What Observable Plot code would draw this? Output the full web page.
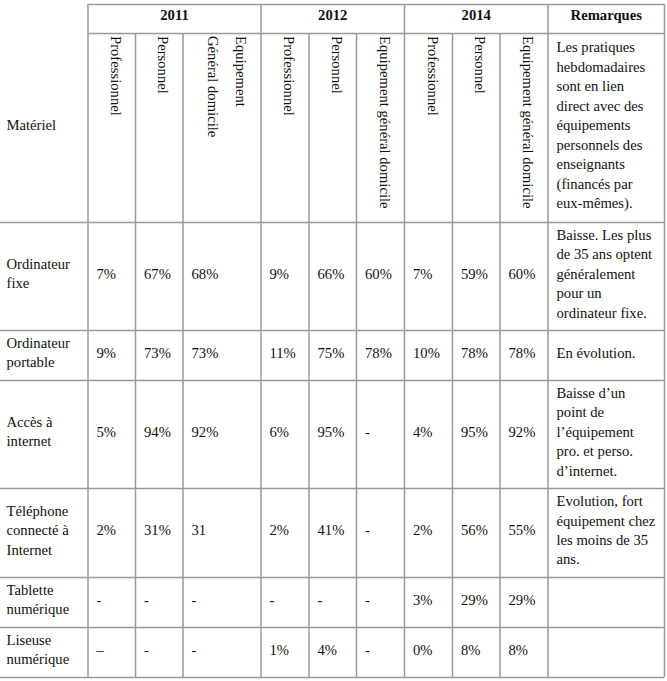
<!DOCTYPE html>
<html>
<head>
<meta charset="utf-8">
<script src="https://cdn.jsdelivr.net/npm/d3@7"></script>
<script src="https://cdn.jsdelivr.net/npm/@observablehq/plot@0.6"></script>
<style>
  html, body { margin: 0; padding: 0; background: #fff; }
  #chart svg, #chart svg text { font-family: 'Liberation Serif', 'Times New Roman', serif !important; }
</style>
</head>
<body>
<div id="chart"></div>
<script>
// ---- Data ----
const years = ["2011", "2012", "2014"];
const remarquesTitle = "Remarques";
const materielTitle = "Matériel";
const subheaders2011 = ["Professionnel", "Personnel", ["Equipement", "Général domicile"]];
const subheaders2012 = ["Professionnel", "Personnel", ["Equipement général domicile"]];
const subheaders2014 = ["Professionnel", "Personnel", ["Equipement général domicile"]];
const materiels = [
  "Ordinateur\nfixe",
  "Ordinateur\nportable",
  "Accès à\ninternet",
  "Téléphone\nconnecté à\nInternet",
  "Tablette\nnumérique",
  "Liseuse\nnumérique"
];
const values2011 = [
  ["7%", "67%", "68%"],
  ["9%", "73%", "73%"],
  ["5%", "94%", "92%"],
  ["2%", "31%", "31"],
  ["-", "-", "-"],
  ["–", "-", "-"]
];
const values2012 = [
  ["9%", "66%", "60%"],
  ["11%", "75%", "78%"],
  ["6%", "95%", "-"],
  ["2%", "41%", "-"],
  ["-", "-", "-"],
  ["1%", "4%", "-"]
];
const values2014 = [
  ["7%", "59%", "60%"],
  ["10%", "78%", "78%"],
  ["4%", "95%", "92%"],
  ["2%", "56%", "55%"],
  ["3%", "29%", "29%"],
  ["0%", "8%", "8%"]
];
const remarqueHeader = "Les pratiques\nhebdomadaires\nsont en lien\ndirect avec des\néquipements\npersonnels des\nenseignants\n(financés par\neux-mêmes).";
const remarques = [
  "Baisse. Les plus\nde 35 ans optent\ngénéralement\npour un\nordinateur fixe.",
  "En évolution.",
  "Baisse d’un\npoint de\nl’équipement\npro. et perso.\nd’internet.",
  "Evolution, fort\néquipement chez\nles moins de 35\nans.",
  "",
  ""
];

// ---- Layout (table geometry) ----
const W = 667, H = 681;
const colEdges = [0, 87.5, 135, 182.5, 260.5, 308.5, 356, 404, 452, 499.5, 547.5, 664];
const rowEdges = [4, 33, 222, 330, 380, 488, 577, 627, 677];
const pad = 8.5;
const lineH = 19.5;
const fontSize = 14.67;
const ink = "#111";
const gridColor = "#9a9a9a";
const mid = (a, b) => (a + b) / 2 - 4;

const allValues = [values2011, values2012, values2014];
const allSub = [subheaders2011, subheaders2012, subheaders2014];

// grid lines
const hLines = [
  {y: rowEdges[0], x1: colEdges[1], x2: colEdges[11]},
  {y: rowEdges[1], x1: colEdges[1], x2: colEdges[11]},
  ...rowEdges.slice(2).map(y => ({y, x1: colEdges[0], x2: colEdges[11]}))
];
const vLines = [
  ...[1, 4, 7, 10, 11].map(i => ({x: colEdges[i], y1: rowEdges[0], y2: rowEdges[8]})),
  ...[2, 3, 5, 6, 8, 9].map(i => ({x: colEdges[i], y1: rowEdges[1], y2: rowEdges[8]}))
];

// header texts
const yearCells = years.map((t, j) => ({
  x: (colEdges[1 + 3 * j] + colEdges[4 + 3 * j]) / 2,
  y: mid(rowEdges[0], rowEdges[1]),
  text: t
}));
yearCells.push({x: (colEdges[10] + colEdges[11]) / 2, y: mid(rowEdges[0], rowEdges[1]), text: remarquesTitle});

const vertCells = [];
allSub.forEach((subs, j) => {
  subs.forEach((s, k) => {
    const right = colEdges[2 + 3 * j + k];
    const lines = Array.isArray(s) ? s : [s];
    lines.forEach((ln, l) => {
      vertCells.push({x: right - 20 - l * 28, y: rowEdges[1] + 2.5, text: ln});
    });
  });
});

// body cells (left aligned)
const leftCells = [];
leftCells.push({x: 6, y: mid(rowEdges[1], rowEdges[2]), text: materielTitle});
leftCells.push({x: colEdges[10] + pad, y: mid(rowEdges[1], rowEdges[2]), text: remarqueHeader});
materiels.forEach((m, i) => {
  const y = mid(rowEdges[2 + i], rowEdges[3 + i]);
  leftCells.push({x: 6, y, text: m});
  allValues.forEach((vals, j) => {
    vals[i].forEach((v, k) => {
      leftCells.push({x: colEdges[1 + 3 * j + k] + pad, y, text: v});
    });
  });
  if (remarques[i]) leftCells.push({x: colEdges[10] + pad, y, text: remarques[i]});
});

const font = "'Liberation Serif', 'Times New Roman', serif";

const plot = Plot.plot({
  width: W,
  height: H,
  margin: 0,
  x: {type: "linear", domain: [0, W], range: [0, W], axis: null},
  y: {type: "linear", domain: [0, H], range: [0, H], axis: null},
  style: {fontFamily: font, background: "#fff"},
  marks: [
    Plot.ruleY(hLines, {y: "y", x1: "x1", x2: "x2", stroke: gridColor, strokeWidth: 1.5}),
    Plot.ruleX(vLines, {x: "x", y1: "y1", y2: "y2", stroke: gridColor, strokeWidth: 1.5}),
    Plot.text(yearCells, {x: "x", y: "y", text: "text", fontSize, fontWeight: "bold", fill: ink, textAnchor: "middle", fontFamily: font}),
    Plot.text(vertCells, {x: "x", y: "y", text: "text", rotate: 90, fontSize, fill: ink, textAnchor: "start", lineAnchor: "middle", fontFamily: font}),
    Plot.text(leftCells, {x: "x", y: "y", text: "text", fontSize, fill: ink, textAnchor: "start", lineAnchor: "middle", lineHeight: lineH / fontSize, fontFamily: font})
  ]
});
document.getElementById("chart").appendChild(plot);
</script>
</body>
</html>
